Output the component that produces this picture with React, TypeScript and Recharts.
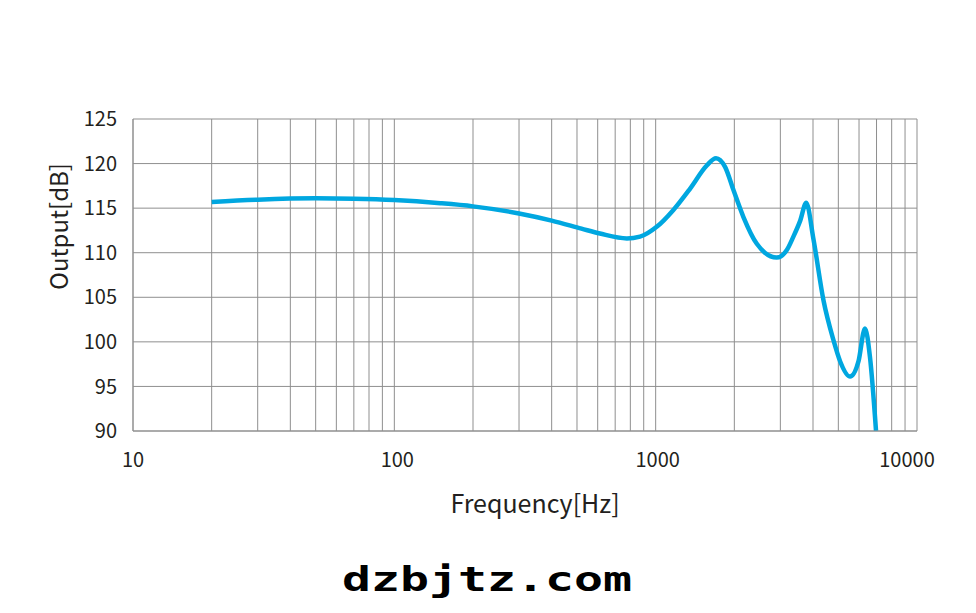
import React from "react";
import { LineChart, Line, XAxis, YAxis, CartesianGrid } from "recharts";

const frequencies = [20, 30, 50, 70, 100, 150, 200, 300, 400, 520, 612, 776, 871, 1009, 1169, 1355, 1570, 1702, 1845, 1986, 2167, 2438, 2905, 3176, 3365, 3574, 3767, 4017, 4384, 4789, 5082, 5546, 5970, 6325, 6607, 6970];
const outputDb = [115.7, 115.95, 116.1, 116.05, 115.9, 115.55, 115.2, 114.4, 113.6, 112.7, 112.15, 111.6, 111.8, 112.9, 114.8, 117.2, 119.8, 120.6, 119.6, 117.0, 114.0, 111.0, 109.45, 110.3, 111.8, 113.6, 115.6, 111.5, 104.7, 100.2, 97.8, 96.1, 97.8, 101.5, 98.3, 90.0];

const xGridTicks = [10, 20, 30, 40, 50, 60, 70, 80, 90, 100, 200, 300, 400, 500, 600, 700, 800, 900, 1000, 2000, 3000, 4000, 5000, 6000, 7000, 8000, 9000, 10000];
const xLabelTicks = [10, 100, 1000, 10000];
const yTicks = [90, 95, 100, 105, 110, 115, 120, 125];

const xTitle = "Frequency[Hz]";
const yTitle = "Output[dB]";
const watermark = "dzbjtz.com";

const data = frequencies.map((f, i) => ({ f, v: outputDb[i] }));

const FONT = "'Noto Sans CJK SC', 'Noto Sans', sans-serif";
const labelShift: Record<number, number> = { 10: 0, 100: 3, 1000: 2, 10000: -10 };

const XTick = (props: any) => {
  const { x, y, payload } = props;
  const val = payload.value;
  if (!xLabelTicks.includes(val)) return null;
  return (
    <text x={x + (labelShift[val] || 0)} y={y} dy="0.71em" textAnchor="middle" fontSize={20} fill="#231f20" fontFamily={FONT}>
      {String(val)}
    </text>
  );
};

export default function App() {
  return (
    <div style={{ position: "relative", width: 960, height: 597 }}>
      <LineChart width={960} height={597} data={data} margin={{ top: 111, right: 51, left: 0, bottom: 144 }}>
        <CartesianGrid stroke="#8f8f8f" strokeWidth={1} />
        <XAxis
          dataKey="f"
          type="number"
          scale="log"
          domain={[10, 10000]}
          ticks={xGridTicks}
          interval={0}
          allowDataOverflow
          height={30}
          axisLine={{ stroke: "#8f8f8f" }}
          tickLine={false}
          tickSize={0}
          tickMargin={22}
          tick={<XTick />}
        />
        <YAxis
          type="number"
          domain={[90, 125]}
          ticks={yTicks}
          interval={0}
          allowDataOverflow
          width={125}
          axisLine={{ stroke: "#8f8f8f" }}
          tickLine={false}
          tickSize={0}
          tickMargin={16}
          tick={{ fontSize: 20, fill: "#231f20", fontFamily: FONT }}
        />
        <Line
          dataKey="v"
          type="monotone"
          stroke="#00a7e0"
          strokeWidth={4.5}
          dot={false}
          activeDot={false}
          isAnimationActive={false}
        />
      </LineChart>
      <svg
        width={976}
        height={613}
        style={{ position: "absolute", left: -8, top: -8, pointerEvents: "none" }}
      >
        <text
          x={57.5}
          y={226.5}
          transform="rotate(-90 57.5 226.5)"
          textAnchor="middle"
          dominantBaseline="central"
          fontSize={24}
          fill="#231f20"
          fontFamily={FONT}
        >
          {yTitle}
        </text>
        <text x={535} y={502} textAnchor="middle" dominantBaseline="central" fontSize={25} fill="#231f20" fontFamily={FONT}>
          {xTitle}
        </text>
        <text
          x={342}
          y={591}
          textLength={290}
          lengthAdjust="spacingAndGlyphs"
          fontSize={33}
          fontWeight="bold"
          fill="#000"
          fontFamily="'DejaVu Sans Mono', 'Liberation Mono', monospace"
        >
          {watermark}
        </text>
      </svg>
    </div>
  );
}
